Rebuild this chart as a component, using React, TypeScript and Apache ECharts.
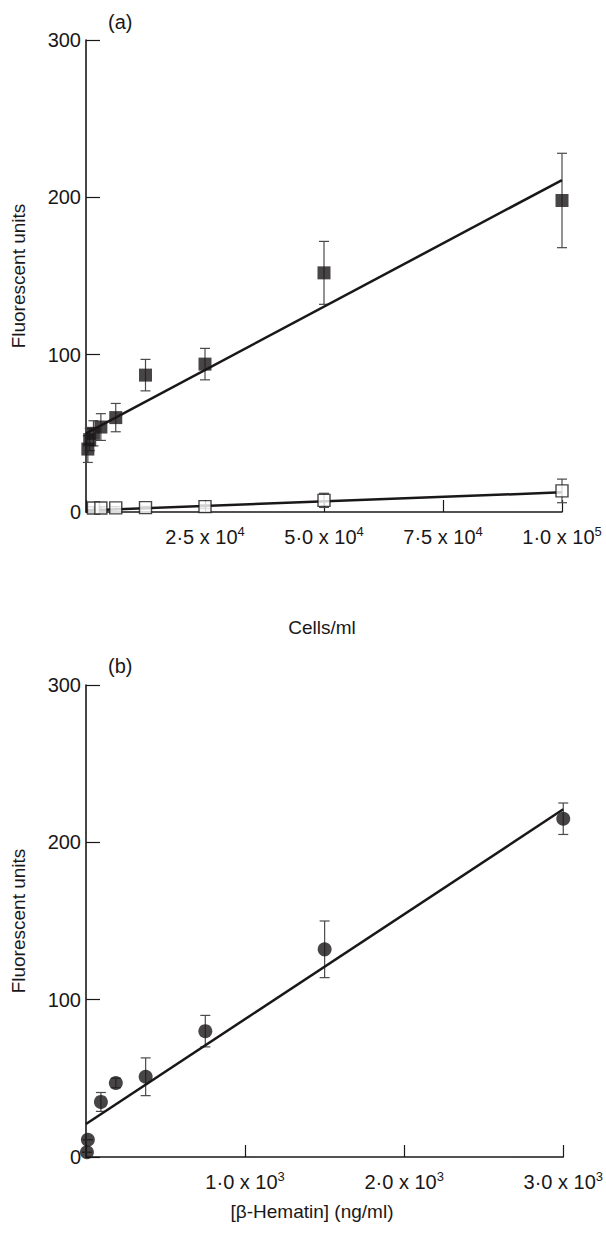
import React, { useEffect, useRef } from "react";
import * as echarts from "echarts";

// ---- Panel (a) data ----
const topX = [390.6, 781.25, 1562.5, 3125, 6250, 12500, 25000, 50000, 100000];
const topFilled = [40, 46, 50, 54, 60, 87, 94, 152, 198];
const topFilledErr = [8.5, 7, 8, 8.5, 9, 10, 10, 20, 30];
const topOpenX = [1562.5, 3125, 6250, 12500, 25000, 50000, 100000];
const topOpen = [2.5, 2.5, 2.6, 2.8, 3.4, 7.4, 13.4];
const topOpenErr = [0.8, 0.8, 0.8, 0.8, 1.2, 4.5, 7.5];
const topFitX = [0, 100000];
const topFilledFit = [50, 211];
const topOpenFit = [1, 12.5];
const topXTicks = [25000, 50000, 75000, 100000];
const topXTickLabels = ["2·5 x 10{sup|4}", "5·0 x 10{sup|4}", "7·5 x 10{sup|4}", "1·0 x 10{sup|5}"];

// ---- Panel (b) data ----
const botX = [5.86, 11.72, 93.75, 187.5, 375, 750, 1500, 3000];
const botY = [3, 11, 35, 47, 51, 80, 132, 215];
const botErr = [0, 0, 6, 3, 12, 10, 18, 10];
const botFitX = [0, 3000];
const botFit = [21, 221];
const botXTicks = [1000, 2000, 3000];
const botXTickLabels = ["1·0 x 10{sup|3}", "2·0 x 10{sup|3}", "3·0 x 10{sup|3}"];

const yTicks = [0, 100, 200, 300];

const FONT = "Liberation Sans, Arial, Helvetica, sans-serif";
const INK = "#1a1718";

function errData(xs: number[], ys: number[], es: number[]) {
  return xs.map((x, i) => [x, ys[i] - es[i], ys[i] + es[i]]);
}

function errSeries(idx: number, data: number[][]) {
  return {
    type: "custom",
    xAxisIndex: idx,
    yAxisIndex: idx,
    data,
    z: 1,
    silent: true,
    renderItem: (params: any, api: any) => {
      const x = api.value(0);
      const lo = api.coord([x, api.value(1)]);
      const hi = api.coord([x, api.value(2)]);
      const hw = 5;
      const st = { stroke: "#4a4a4a", lineWidth: 1.2 };
      return {
        type: "group",
        children: [
          { type: "line", shape: { x1: lo[0], y1: lo[1], x2: hi[0], y2: hi[1] }, style: st },
          { type: "line", shape: { x1: lo[0] - hw, y1: lo[1], x2: lo[0] + hw, y2: lo[1] }, style: st },
          { type: "line", shape: { x1: hi[0] - hw, y1: hi[1], x2: hi[0] + hw, y2: hi[1] }, style: st },
        ],
      };
    },
  };
}

function xAxis(idx: number, max: number, ticks: number[], labels: string[]) {
  return {
    type: "value",
    gridIndex: idx,
    min: 0,
    max,
    interval: ticks[0],
    splitLine: { show: false },
    axisLine: { lineStyle: { color: INK, width: 1.6 } },
    axisTick: { inside: true, length: 12, lineStyle: { color: INK, width: 1.2 } },
    axisLabel: {
      margin: 13,
      fontFamily: FONT,
      fontSize: 20,
      color: INK,
      showMinLabel: true,
      formatter: (v: number) => {
        const i = ticks.indexOf(v);
        return i >= 0 ? labels[i] : "";
      },
      rich: {
        sup: { fontSize: 13, fontFamily: FONT, color: INK, verticalAlign: "top", padding: [0, 0, 10, 0] },
      },
    },
  };
}

function yAxis(idx: number) {
  return {
    type: "value",
    gridIndex: idx,
    min: yTicks[0],
    max: yTicks[yTicks.length - 1],
    interval: yTicks[1] - yTicks[0],
    splitLine: { show: false },
    axisLine: { lineStyle: { color: INK, width: 1.6 } },
    axisTick: { inside: true, length: 14, lineStyle: { color: INK, width: 1.2 } },
    axisLabel: { margin: 5, fontFamily: FONT, fontSize: 20, color: INK },
  };
}

export default function App() {
  const ref = useRef<HTMLDivElement>(null);
  useEffect(() => {
    document.body.style.margin = "0";
    const chart = echarts.init(ref.current!, null, { renderer: "svg" });
    const option: any = {
      animation: false,
      backgroundColor: "#ffffff",
      grid: [
        { left: 86, top: 40, width: 476, height: 472 },
        { left: 86, top: 685, width: 487, height: 472 },
      ],
      xAxis: [
        xAxis(0, 100000, topXTicks, topXTickLabels),
        xAxis(1, 3000, botXTicks, botXTickLabels),
      ],
      yAxis: [yAxis(0), yAxis(1)],
      series: [
        {
          type: "line",
          xAxisIndex: 0,
          yAxisIndex: 0,
          data: topFitX.map((x, i) => [x, topFilledFit[i]]),
          symbol: "none",
          lineStyle: { color: INK, width: 2.5 },
          z: 2,
        },
        {
          type: "line",
          xAxisIndex: 0,
          yAxisIndex: 0,
          data: topFitX.map((x, i) => [x, topOpenFit[i]]),
          symbol: "none",
          lineStyle: { color: INK, width: 2.5 },
          z: 2,
        },
        errSeries(0, errData(topX, topFilled, topFilledErr)),
        errSeries(0, errData(topOpenX, topOpen, topOpenErr)),
        {
          type: "scatter",
          xAxisIndex: 0,
          yAxisIndex: 0,
          data: topOpenX.map((x, i) => [x, topOpen[i]]),
          symbol: "rect",
          symbolSize: 12,
          itemStyle: { color: "#ffffff", borderColor: INK, borderWidth: 1.4 },
          z: 3,
        },
        {
          type: "scatter",
          xAxisIndex: 0,
          yAxisIndex: 0,
          data: topX.map((x, i) => [x, topFilled[i]]),
          symbol: "rect",
          symbolSize: 13,
          itemStyle: { color: INK },
          z: 4,
        },
        {
          type: "line",
          xAxisIndex: 1,
          yAxisIndex: 1,
          data: botFitX.map((x, i) => [x, botFit[i]]),
          symbol: "none",
          lineStyle: { color: INK, width: 2.5 },
          z: 2,
        },
        errSeries(1, errData(botX, botY, botErr)),
        {
          type: "scatter",
          xAxisIndex: 1,
          yAxisIndex: 1,
          data: botX.map((x, i) => [x, botY[i]]),
          symbol: "circle",
          symbolSize: 14,
          itemStyle: { color: INK },
          z: 4,
        },
      ],
      graphic: [
        { type: "text", x: 108, y: 22, style: { text: "(a)", fontFamily: FONT, fontSize: 20, fill: INK, verticalAlign: "middle" } },
        { type: "text", x: 108, y: 666, style: { text: "(b)", fontFamily: FONT, fontSize: 20, fill: INK, verticalAlign: "middle" } },
        {
          type: "text", x: 18, y: 276, rotation: Math.PI / 2,
          style: { text: "Fluorescent units", fontFamily: FONT, fontSize: 19, fill: INK, align: "center", verticalAlign: "middle" },
        },
        {
          type: "text", x: 18, y: 921, rotation: Math.PI / 2,
          style: { text: "Fluorescent units", fontFamily: FONT, fontSize: 19, fill: INK, align: "center", verticalAlign: "middle" },
        },
        {
          type: "text", x: 322, y: 627,
          style: { text: "Cells/ml", fontFamily: FONT, fontSize: 19, fill: INK, align: "center", verticalAlign: "middle" },
        },
        {
          type: "text", x: 312, y: 1211,
          style: { text: "[β-Hematin] (ng/ml)", fontFamily: FONT, fontSize: 19, fill: INK, align: "center", verticalAlign: "middle" },
        },
      ],
    };
    chart.setOption(option);
    return () => chart.dispose();
  }, []);
  return <div ref={ref} style={{ width: 606, height: 1242 }} />;
}
